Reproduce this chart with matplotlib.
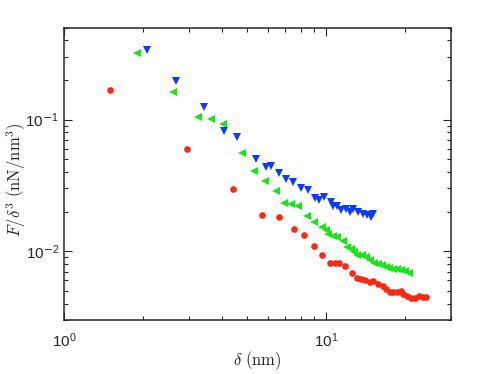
import matplotlib
matplotlib.use("Agg")
import matplotlib.pyplot as plt
from matplotlib.ticker import LogLocator, FuncFormatter, NullFormatter
import numpy as np

# ---- data ----
red_x = [1.49, 2.95, 4.42, 5.69, 6.59, 7.55, 8.22, 9.02, 9.68, 10.36, 10.8, 11.24, 11.79,
         12.6, 13.17, 13.65, 14.13, 14.73, 15.17, 15.81, 16.48, 16.96, 17.57, 18.09, 18.63,
         19.41, 19.75, 20.46, 21.19, 21.95, 22.74, 23.43, 24.13]
red_y = [0.169, 0.0596, 0.0297, 0.0189, 0.0181, 0.0147, 0.0132, 0.0110, 0.0094, 0.0082, 0.0082,
         0.0082, 0.00774, 0.0068, 0.0063, 0.00616, 0.00605, 0.00582, 0.0059, 0.00565, 0.0054,
         0.00515, 0.00492, 0.00486, 0.00489, 0.00498, 0.00475, 0.00453, 0.0044, 0.00443,
         0.00458, 0.00446, 0.00446]

green_x = [1.90, 2.60, 3.23, 3.64, 4.03, 4.76, 5.30, 5.84, 6.46, 6.93, 7.35, 7.79, 8.44, 9.0,
           9.65, 9.97, 10.2, 10.6, 10.99, 11.58, 12.0, 12.43, 12.83, 13.2, 13.7, 14.19, 14.73,
           15.26, 15.81, 16.37, 16.96, 17.46, 18.09, 18.74, 19.41, 20.1, 20.83]
green_y = [0.319, 0.161, 0.104, 0.101, 0.0921, 0.0562, 0.0408, 0.0341, 0.0286, 0.0233, 0.0230,
           0.0219, 0.0185, 0.0168, 0.0152, 0.0145, 0.0135, 0.0131, 0.0129, 0.0120, 0.0108,
           0.0104, 0.0099, 0.0094, 0.0093, 0.0090, 0.0086, 0.0082, 0.0080, 0.00783, 0.00764,
           0.00746, 0.00734, 0.0073, 0.0072, 0.00713, 0.0068]

blue_x = [2.07, 2.66, 3.42, 4.08, 4.57, 5.40, 5.88, 6.15, 6.61, 7.03, 7.50, 8.03, 8.54, 9.10,
          9.40, 9.80, 10.45, 10.6, 10.99, 11.41, 11.89, 12.36, 12.72, 13.29, 13.89, 14.31,
          14.9, 15.09]
blue_y = [0.341, 0.195, 0.124, 0.082, 0.0734, 0.0498, 0.0435, 0.0448, 0.0394, 0.0355, 0.0337,
          0.0303, 0.0290, 0.0255, 0.0245, 0.0260, 0.0238, 0.0220, 0.0220, 0.0206, 0.0208,
          0.0199, 0.0208, 0.0199, 0.0191, 0.0188, 0.0183, 0.0191]

x_limits = [1, 30]
y_limits = [0.003, 0.5]
x_label = r'$\delta\ (\mathrm{nm})$'
y_label = r'$F/\delta^3\ (\mathrm{nN/nm^3})$'

# ---- style ----
plt.rcParams['mathtext.fontset'] = 'custom'
plt.rcParams['mathtext.rm'] = 'Liberation Sans'
plt.rcParams['mathtext.it'] = 'Liberation Sans:italic'
plt.rcParams['mathtext.bf'] = 'Liberation Sans:bold'
plt.rcParams['font.family'] = ['Liberation Sans', 'DejaVu Sans']

RED = '#ff2a12'
GREEN = '#19e619'
BLUE = '#0a3cff'
AX = '#262626'

fig = plt.figure(figsize=(4.98, 3.74), dpi=100)
ax = fig.add_axes([0.1295, 0.1444, 0.9050 - 0.1295, 0.926 - 0.1444])

ax.plot(red_x, red_y, 'o', ms=4.8, mfc=RED, mec=RED, mew=0, ls='none')
ax.plot(green_x, green_y, '<', ms=6, mfc=GREEN, mec=GREEN, mew=0, ls='none')
ax.plot(blue_x, blue_y, 'v', ms=6, mfc=BLUE, mec=BLUE, mew=0, ls='none')

ax.set_xscale('log')
ax.set_yscale('log')
ax.set_xlim(x_limits)
ax.set_ylim(y_limits)

ax.xaxis.set_major_locator(LogLocator(base=10, numticks=10))
ax.yaxis.set_major_locator(LogLocator(base=10, numticks=10))
ax.xaxis.set_minor_locator(LogLocator(base=10, subs=np.arange(2, 10), numticks=20))
ax.yaxis.set_minor_locator(LogLocator(base=10, subs=np.arange(2, 10), numticks=20))
ax.xaxis.set_minor_formatter(NullFormatter())
ax.yaxis.set_minor_formatter(NullFormatter())

def fmt(v, pos):
    e = int(round(np.log10(v)))
    if e < 0:
        return r'$10^{\mathsf{-}%d}$' % (-e)
    return r'$10^{%d}$' % e

ax.xaxis.set_major_formatter(FuncFormatter(fmt))
ax.yaxis.set_major_formatter(FuncFormatter(fmt))

ax.tick_params(which='both', direction='in', top=True, right=True, color=AX,
               labelcolor=AX, labelsize=11)
ax.tick_params(which='major', length=5.5, width=0.8)
ax.tick_params(which='minor', length=3, width=0.8)
ax.tick_params(axis='x', which='major', pad=8)
ax.tick_params(axis='y', which='major', pad=4)
for s in ax.spines.values():
    s.set_color(AX)
    s.set_linewidth(1.1)

ax.set_xlabel(x_label, fontsize=12, color=AX, math_fontfamily='cm', labelpad=0)
ax.set_ylabel(y_label, fontsize=12, color=AX, math_fontfamily='cm')
ax.yaxis.set_label_coords(-0.095, 0.48)

fig.savefig('out.png', dpi=100, facecolor='white')
